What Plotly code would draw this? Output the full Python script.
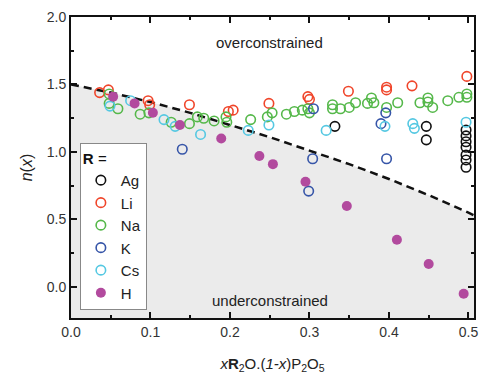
import plotly.graph_objects as go

# boundary n(x)
bound_x = [0.0, 0.05, 0.10, 0.15, 0.20, 0.25, 0.30, 0.35, 0.40, 0.45, 0.50, 0.507]
bound_y = [1.50, 1.44, 1.37, 1.29, 1.20, 1.11, 1.01, 0.91, 0.80, 0.68, 0.55, 0.53]

ag_x = [0.332, 0.447, 0.447, 0.497, 0.497, 0.497, 0.497, 0.497, 0.497, 0.497]
ag_y = [1.19, 1.19, 1.09, 1.163, 1.119, 1.076, 1.035, 0.978, 0.941, 0.887]

li_x = [0.036, 0.047, 0.097, 0.099, 0.149, 0.198, 0.204, 0.249, 0.298, 0.300, 0.349, 0.397, 0.397, 0.429, 0.498]
li_y = [1.44, 1.46, 1.38, 1.35, 1.35, 1.30, 1.31, 1.36, 1.41, 1.39, 1.45, 1.48, 1.46, 1.49, 1.56]

na_x = [0.048, 0.048, 0.059, 0.087, 0.098, 0.126, 0.149, 0.159, 0.167, 0.180, 0.195, 0.196, 0.226,
        0.247, 0.253, 0.271, 0.281, 0.291, 0.298, 0.300, 0.329, 0.329, 0.339, 0.350, 0.358, 0.373,
        0.378, 0.381, 0.397, 0.411, 0.439, 0.449, 0.449, 0.455, 0.474, 0.488, 0.498, 0.498]
na_y = [1.43, 1.36, 1.32, 1.28, 1.29, 1.22, 1.21, 1.26, 1.25, 1.23, 1.26, 1.22, 1.24,
        1.26, 1.29, 1.28, 1.30, 1.31, 1.32, 1.29, 1.35, 1.32, 1.32, 1.33, 1.365, 1.36,
        1.40, 1.365, 1.33, 1.365, 1.365, 1.40, 1.37, 1.33, 1.38, 1.405, 1.43, 1.405]

k_x = [0.140, 0.299, 0.304, 0.305, 0.390, 0.396, 0.397]
k_y = [1.02, 0.71, 0.95, 1.32, 1.21, 1.29, 0.95]

cs_x = [0.049, 0.075, 0.117, 0.131, 0.163, 0.223, 0.249, 0.321, 0.395, 0.430, 0.432, 0.497]
cs_y = [1.34, 1.38, 1.24, 1.19, 1.13, 1.16, 1.20, 1.16, 1.19, 1.21, 1.175, 1.22]

h_x = [0.053, 0.080, 0.103, 0.137, 0.189, 0.237, 0.254, 0.295, 0.347, 0.410, 0.450, 0.494]
h_y = [1.41, 1.36, 1.29, 1.20, 1.10, 0.97, 0.91, 0.78, 0.60, 0.35, 0.17, -0.05]

series = [
    ("Ag", ag_x, ag_y, "#111111", False),
    ("Li", li_x, li_y, "#f0452a", False),
    ("Na", na_x, na_y, "#55b84a", False),
    ("K", k_x, k_y, "#3655a8", False),
    ("Cs", cs_x, cs_y, "#55c8e2", False),
    ("H", h_x, h_y, "#b24a9e", True),
]

FONT = "Liberation Sans, Arial, sans-serif"
fig = go.Figure()

# baseline for the grey fill
fig.add_trace(go.Scatter(x=bound_x, y=[-0.3] * len(bound_x), mode="lines",
                         line=dict(width=0, color="rgba(0,0,0,0)"),
                         showlegend=False, hoverinfo="skip"))
fig.add_trace(go.Scatter(x=bound_x, y=bound_y, mode="lines", fill="tonexty",
                         fillcolor="#ebebeb",
                         line=dict(color="#111111", width=2.5, dash="8px,5px"),
                         showlegend=False, hoverinfo="skip"))

for name, xs, ys, col, filled in series:
    if filled:
        marker = dict(symbol="circle", size=10, color=col, line=dict(width=0))
    else:
        marker = dict(symbol="circle-open", size=9.5, color=col, line=dict(width=1.6, color=col))
    fig.add_trace(go.Scatter(x=xs, y=ys, mode="markers", name=name, marker=marker))

fig.add_annotation(x=0.25, y=1.81, text="overconstrained", showarrow=False,
                   font=dict(size=15, color="#222222", family=FONT))
fig.add_annotation(x=0.25, y=-0.1, text="underconstrained", showarrow=False,
                   font=dict(size=15, color="#222222", family=FONT))

axis_common = dict(showline=True, linecolor="#111111", linewidth=2, mirror="ticks",
                   ticks="inside", ticklen=6, tickwidth=2, tickcolor="#111111",
                   showgrid=False, zeroline=False,
                   tickfont=dict(size=14, color="#333333", family=FONT))

fig.update_xaxes(range=[0, 0.507], dtick=0.1, tickformat=".1f",
                 minor=dict(ticks="inside", dtick=0.05, ticklen=3, tickwidth=1.5, tickcolor="#111111"),
                 title=dict(text="<i>x</i><b>R</b><sub>2</sub>O.(<i>1-x</i>)P<sub>2</sub>O<sub>5</sub>",
                            font=dict(size=15, color="#222222", family=FONT), standoff=20),
                 **axis_common)
fig.update_yaxes(range=[-0.23, 2.0], dtick=0.5, tickformat=".1f",
                 minor=dict(ticks="inside", dtick=0.25, ticklen=3, tickwidth=1.5, tickcolor="#111111"),
                 title=dict(text="<i>n</i>(<i>x</i>)",
                            font=dict(size=16, color="#222222", family=FONT), standoff=10),
                 **axis_common)

fig.update_layout(
    width=483, height=376,
    margin=dict(l=71, r=5, t=17, b=58),
    plot_bgcolor="white", paper_bgcolor="white",
    font=dict(family=FONT, color="#222222"),
    legend=dict(x=0.022, y=0.58, xanchor="left", yanchor="top",
                traceorder="normal",
                bgcolor="white", bordercolor="#888888", borderwidth=1,
                title=dict(text="<b>R</b> =", font=dict(size=15, family=FONT, color="#111111")),
                font=dict(size=15, family=FONT, color="#222222"),
                itemwidth=30, tracegroupgap=0),
)

fig.write_html("out.html")
